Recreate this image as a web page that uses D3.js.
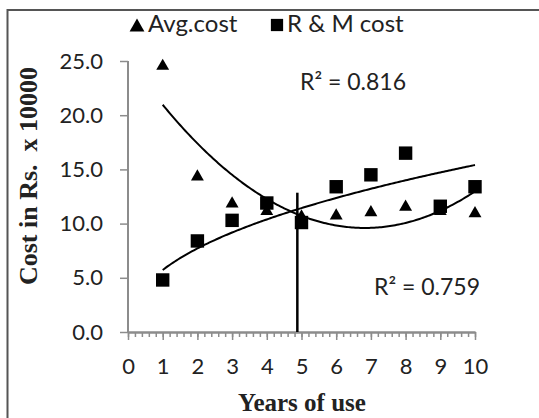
<!DOCTYPE html>
<html>
<head>
<meta charset="utf-8">
<script src="https://cdn.jsdelivr.net/npm/d3@7"></script>
<style>
  html, body { margin: 0; padding: 0; background: #fff; }
  svg { display: block; }
</style>
</head>
<body>
<svg id="chart" width="539" height="418"></svg>
<script>
// Cost of ownership by age of machine (Rs. x 10000)
const years = [1, 2, 3, 4, 5, 6, 7, 8, 9, 10];
const avgCost = [24.7, 14.5, 12.0, 11.3, 10.8, 10.9, 11.2, 11.7, 11.3, 11.1];
const rmCost = [4.8, 8.4, 10.3, 11.9, 10.1, 13.4, 14.5, 16.5, 11.6, 13.4];
const yTicks = [0, 5, 10, 15, 20, 25];
const xTicks = [0, 1, 2, 3, 4, 5, 6, 7, 8, 9, 10];
const r2Labels = ["R\u00B2 = 0.816", "R\u00B2 = 0.759"];
const legendLabels = ["Avg.cost", "R & M cost"];
const economicLife = 4.88;      // year where the two trends meet
const economicLifeTop = 12.85;  // height of the marker line

const uiFont = "Lato, 'Open Sans', sans-serif";
const titleFont = "'Liberation Serif', 'Times New Roman', serif";

const svg = d3.select("#chart");
svg.append("rect").attr("width", 539).attr("height", 418).attr("fill", "#fff");

// outer frame (left and top edges)
svg.append("path")
  .attr("d", "M7.5,418 V10 H539")
  .attr("fill", "none").attr("stroke", "#555").attr("stroke-width", 2);

const x = d3.scaleLinear().domain([0, 10]).range([128, 475]);
const y = d3.scaleLinear().domain([0, 25]).range([332, 61]);

// least-squares quadratic trend for the average cost
function quadFit(xs, ys) {
  const n = xs.length, mx = d3.mean(xs);
  const u = xs.map(v => v - mx);
  const s2 = d3.sum(u, v => v * v), s4 = d3.sum(u, v => v ** 4), s3 = d3.sum(u, v => v ** 3);
  const sy = d3.sum(ys), suy = d3.sum(u, (v, i) => v * ys[i]), su2y = d3.sum(u, (v, i) => v * v * ys[i]);
  const A = [[n, 0, s2], [0, s2, s3], [s2, s3, s4]], B = [sy, suy, su2y];
  for (let i = 0; i < 3; i++) {
    for (let k = i + 1; k < 3; k++) {
      const f = A[k][i] / A[i][i];
      for (let j = i; j < 3; j++) A[k][j] -= f * A[i][j];
      B[k] -= f * B[i];
    }
  }
  const c = [0, 0, 0];
  for (let i = 2; i >= 0; i--) {
    let s = B[i];
    for (let j = i + 1; j < 3; j++) s -= A[i][j] * c[j];
    c[i] = s / A[i][i];
  }
  return t => c[0] + c[1] * (t - mx) + c[2] * (t - mx) ** 2;
}

// least-squares power trend (y = a * x^b) for repair & maintenance cost
function powerFit(xs, ys) {
  const lx = xs.map(Math.log), ly = ys.map(Math.log);
  const mx = d3.mean(lx), my = d3.mean(ly);
  const b = d3.sum(lx, (v, i) => (v - mx) * (ly[i] - my)) / d3.sum(lx, v => (v - mx) ** 2);
  const a = Math.exp(my - b * mx);
  return t => a * Math.pow(t, b);
}

const avgTrend = quadFit(years, avgCost);
const rmTrend = powerFit(years, rmCost);

// axes
const axisColor = "#8c8c8c";
const yAxis = svg.append("g").attr("transform", `translate(${x(0)},0)`)
  .call(d3.axisLeft(y).tickValues(yTicks).tickFormat(d3.format(".1f")).tickSize(8).tickPadding(17));
const xAxisMinor = svg.append("g").attr("transform", `translate(0,${y(0)})`)
  .call(d3.axisBottom(x).ticks(50).tickFormat("").tickSize(5).tickSizeOuter(0));
const xAxis = svg.append("g").attr("transform", `translate(0,${y(0)})`)
  .call(d3.axisBottom(x).tickValues(xTicks).tickFormat(d3.format("d")).tickSize(8).tickSizeOuter(0).tickPadding(18));

[yAxis, xAxis, xAxisMinor].forEach(g => {
  g.select(".domain").attr("stroke", axisColor).attr("stroke-width", 2);
  g.selectAll(".tick line").attr("stroke", axisColor).attr("stroke-width", 1.5);
  g.selectAll("text").attr("fill", "#222").style("font-family", uiFont).style("font-size", "22px");
});
yAxis.select(".domain").attr("d", `M0,${y(25)}V${y(0)}`);

// axis titles
svg.append("text")
  .attr("x", 302).attr("y", 411).attr("text-anchor", "middle")
  .style("font-family", titleFont).style("font-weight", "bold").style("font-size", "25px")
  .attr("fill", "#222").text("Years of use");
svg.append("text")
  .attr("transform", "translate(37,176) rotate(-90)").attr("text-anchor", "middle")
  .style("font-family", titleFont).style("font-weight", "bold").style("font-size", "26px")
  .style("white-space", "pre")
  .attr("fill", "#222").text("Cost in Rs.  x 10000");

// trend lines
const grid = d3.range(1, 10.001, 0.05);
const line = d3.line().x(d => x(d[0])).y(d => y(d[1]));
svg.append("path").datum(grid.map(t => [t, avgTrend(t)]))
  .attr("d", line).attr("fill", "none").attr("stroke", "#000").attr("stroke-width", 2);
svg.append("path").datum(grid.map(t => [t, rmTrend(t)]))
  .attr("d", line).attr("fill", "none").attr("stroke", "#000").attr("stroke-width", 2);

// economic life marker
svg.append("line")
  .attr("x1", x(economicLife)).attr("x2", x(economicLife))
  .attr("y1", y(0)).attr("y2", y(economicLifeTop))
  .attr("stroke", "#000").attr("stroke-width", 2.5);

// triangle centred on its bounding box, as spreadsheet markers are
const boxTriangle = {
  draw(ctx, size) {
    const s = Math.sqrt(size * 4 / Math.sqrt(3)), h = s * Math.sqrt(3) / 2;
    ctx.moveTo(0, -h / 2);
    ctx.lineTo(s / 2, h / 2);
    ctx.lineTo(-s / 2, h / 2);
    ctx.closePath();
  }
};

// markers
const tri = d3.symbol().type(boxTriangle).size(72);
const sq = d3.symbol().type(d3.symbolSquare).size(180);
svg.append("g").selectAll("path").data(years).join("path")
  .attr("transform", (d, i) => `translate(${x(d)},${y(avgCost[i])})`)
  .attr("d", tri).attr("fill", "#000");
svg.append("g").selectAll("path").data(years).join("path")
  .attr("transform", (d, i) => `translate(${x(d)},${y(rmCost[i])})`)
  .attr("d", sq).attr("fill", "#000");

// R² annotations
svg.append("text").attr("x", 300).attr("y", 90)
  .style("font-family", uiFont).style("font-size", "23px").attr("fill", "#222").text(r2Labels[0]);
svg.append("text").attr("x", 374).attr("y", 295)
  .style("font-family", uiFont).style("font-size", "23px").attr("fill", "#222").text(r2Labels[1]);

// legend
const legend = svg.append("g");
legend.append("path").attr("transform", "translate(137,25)")
  .attr("d", d3.symbol().type(boxTriangle).size(95)).attr("fill", "#000");
legend.append("text").attr("x", 148).attr("y", 32)
  .style("font-family", uiFont).style("font-size", "24px").attr("fill", "#222").text(legendLabels[0]);
legend.append("path").attr("transform", "translate(277,25)")
  .attr("d", d3.symbol().type(d3.symbolSquare).size(150)).attr("fill", "#000");
legend.append("text").attr("x", 287).attr("y", 32)
  .style("font-family", uiFont).style("font-size", "24px").attr("fill", "#222").text(legendLabels[1]);
</script>
</body>
</html>
